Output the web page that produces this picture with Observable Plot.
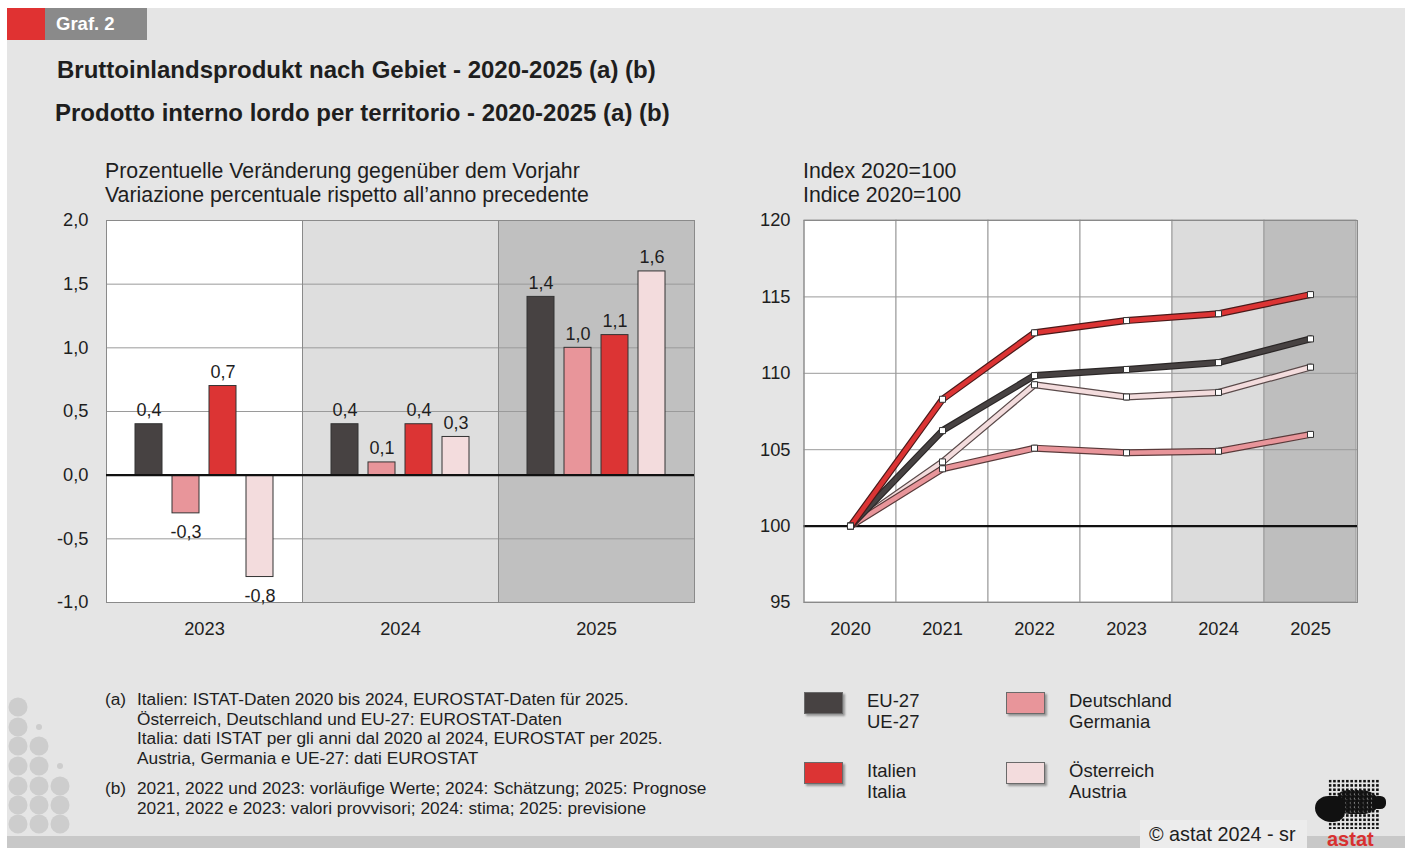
<!DOCTYPE html>
<html><head><meta charset="utf-8">
<script src="https://cdn.jsdelivr.net/npm/d3@7"></script>
<script src="https://cdn.jsdelivr.net/npm/@observablehq/plot@0.6"></script>
<style>
html,body{margin:0;padding:0;background:#fff;}
body{width:1408px;height:848px;position:relative;overflow:hidden;font-family:"Liberation Sans",Arial,Helvetica,sans-serif;color:#1e1e1e;}
#panel{position:absolute;left:7px;top:8px;width:1398px;height:840px;background:#e5e5e5;}
#bottomband{position:absolute;left:7px;top:836px;width:1398px;height:12px;background:#c8c8c8;}
.abs{position:absolute;white-space:nowrap;}
.sw{position:absolute;width:39px;height:22px;box-shadow:2px 2px 2px rgba(0,0,0,0.35);border:1px solid #6a6a6a;box-sizing:border-box;}
.leg{font-size:18.5px;line-height:21px;}
.fn{font-size:17.3px;line-height:19.5px;}
</style></head>
<body>
<div id="panel"></div>
<div id="bottomband"></div>
<div class="abs" style="left:7px;top:8px;width:38px;height:32px;background:#e03232;"></div>
<div class="abs" style="left:45px;top:8px;width:102px;height:32px;background:#8a8a8a;color:#fff;font-weight:bold;font-size:18.5px;line-height:32px;padding-left:11px;box-sizing:border-box;">Graf. 2</div>
<div class="abs" style="left:57px;top:57px;font-size:24px;font-weight:bold;line-height:26px;">Bruttoinlandsprodukt nach Gebiet - 2020-2025 (a) (b)</div>
<div class="abs" style="left:55px;top:100px;font-size:24px;font-weight:bold;line-height:26px;">Prodotto interno lordo per territorio - 2020-2025 (a) (b)</div>
<div class="abs" style="left:105px;top:159px;font-size:21.3px;line-height:24px;">Prozentuelle Veränderung gegenüber dem Vorjahr<br>Variazione percentuale rispetto all’anno precedente</div>
<div class="abs" style="left:803px;top:159px;font-size:21.3px;line-height:24px;">Index 2020=100<br>Indice 2020=100</div>
<div id="left" class="abs" style="left:0px;top:210px;"></div>
<div id="right" class="abs" style="left:720px;top:210px;"></div>

<svg class="abs" style="left:0;top:690px" width="80" height="146" id="deco"></svg>

<div class="abs fn" style="left:105px;top:690px;">(a)</div>
<div class="abs fn" style="left:137px;top:690px;">Italien: ISTAT-Daten 2020 bis 2024, EUROSTAT-Daten für 2025.<br>Österreich, Deutschland und EU-27: EUROSTAT-Daten<br>Italia: dati ISTAT per gli anni dal 2020 al 2024, EUROSTAT per 2025.<br>Austria, Germania e UE-27: dati EUROSTAT</div>
<div class="abs fn" style="left:105px;top:779px;">(b)</div>
<div class="abs fn" style="left:137px;top:779px;">2021, 2022 und 2023: vorläufige Werte; 2024: Schätzung; 2025: Prognose<br>2021, 2022 e 2023: valori provvisori; 2024: stima; 2025: previsione</div>

<div id="legend"></div>

<div class="abs" style="left:1140px;top:820px;width:167px;height:28px;background:#ececec;font-size:19.8px;line-height:28px;padding-left:9px;box-sizing:border-box;">© astat 2024 - sr</div>
<div class="abs" style="left:1328px;top:779px;width:52px;height:50px;background-image:radial-gradient(circle,#111 1.2px,transparent 1.5px);background-size:4.3px 4.3px;"></div>
<div class="abs" style="left:1315px;top:796px;width:30px;height:26px;background:#111;border-radius:45% 30% 40% 55%;"></div>
<div class="abs" style="left:1338px;top:790px;width:40px;height:24px;background-image:radial-gradient(circle,#111 1.9px,transparent 2.1px);background-size:4.3px 4.3px;border-radius:25% 45% 40% 30%;"></div>
<div class="abs" style="left:1372px;top:796px;width:14px;height:13px;background:#111;border-radius:40%;"></div>
<div class="abs" style="left:1327px;top:831px;font-size:20px;font-weight:bold;color:#d83030;line-height:17px;">astat</div>

<script>
// ---------- data ----------
const growthYears = ["2023", "2024", "2025"];
const seriesKeys = ["EU-27", "Deutschland", "Italien", "Österreich"];
const growthEU = [0.4, 0.4, 1.4];
const growthDE = [-0.3, 0.1, 1.0];
const growthIT = [0.7, 0.4, 1.1];
const growthAT = [-0.8, 0.3, 1.6];
const growthTicks = [-1, -0.5, 0, 0.5, 1, 1.5, 2];

const indexYears = ["2020", "2021", "2022", "2023", "2024", "2025"];
const indexEU = [100, 106.25, 109.85, 110.25, 110.7, 112.25];
const indexDE = [100, 103.75, 105.1, 104.8, 104.9, 106.0];
const indexIT = [100, 108.3, 112.65, 113.45, 113.9, 115.15];
const indexAT = [100, 104.2, 109.25, 108.45, 108.75, 110.4];
const indexTicks = [95, 100, 105, 110, 115, 120];

const legendDE = ["EU-27", "Deutschland", "Italien", "Österreich"];
const legendIT = ["UE-27", "Germania", "Italia", "Austria"];

// ---------- styles ----------
const fillColor = {"EU-27": "#474242", "Deutschland": "#e8959a", "Italien": "#dc3434", "Österreich": "#f3dcdd"};
const growthBand = {"2023": "#ffffff", "2024": "#dedede", "2025": "#c0c0c0"};
const indexBand = {"2020": "#ffffff", "2021": "#ffffff", "2022": "#ffffff", "2023": "#ffffff", "2024": "#dcdcdc", "2025": "#bebebe"};
const fmt = v => (v < 0 ? "-" : "") + Math.abs(v).toFixed(1).replace(".", ",");
const baseStyle = {fontFamily: "'Liberation Sans', Arial, sans-serif", fontSize: "18.3px", color: "#1e1e1e", background: "transparent", overflow: "visible"};

const growthValues = {"EU-27": growthEU, "Deutschland": growthDE, "Italien": growthIT, "Österreich": growthAT};
const growthRows = [];
growthYears.forEach((y, i) => seriesKeys.forEach(s => growthRows.push({year: y, series: s, value: growthValues[s][i]})));

const left = Plot.plot({
  width: 704, height: 432,
  marginLeft: 105, marginRight: 10, marginTop: 10, marginBottom: 40,
  style: baseStyle,
  fx: {domain: growthYears, padding: 0, label: null, tickSize: 0, tickPadding: 19, axis: "bottom"},
  x: {domain: seriesKeys, paddingInner: 0.27, paddingOuter: 0.78, axis: null},
  y: {domain: [-1, 2], ticks: growthTicks, tickFormat: fmt, tickSize: 0, tickPadding: 18, label: null},
  color: {type: "identity"},
  marks: [
    Plot.rect(growthYears, {fx: d => d, fill: d => growthBand[d]}),
    Plot.gridY(growthTicks, {stroke: "#9a9a9a", strokeOpacity: 1}),
    Plot.frame({stroke: "#8a8a8a"}),
    Plot.barY(growthRows, {fx: "year", x: "series", y: "value", fill: d => fillColor[d.series], stroke: "#333", strokeWidth: 1}),
    Plot.ruleY([0], {stroke: "#111", strokeWidth: 2.2}),
    Plot.text(growthRows.filter(d => d.value >= 0), {fx: "year", x: "series", y: "value", text: d => fmt(d.value), lineAnchor: "bottom", dy: -8, fontSize: 18, fill: "#1e1e1e"}),
    Plot.text(growthRows.filter(d => d.value < 0), {fx: "year", x: "series", y: "value", text: d => fmt(d.value), lineAnchor: "top", dy: 12, fontSize: 18, fill: "#1e1e1e"})
  ]
});
document.getElementById("left").appendChild(left);

const indexValues = {"EU-27": indexEU, "Deutschland": indexDE, "Italien": indexIT, "Österreich": indexAT};
const indexRows = [];
seriesKeys.forEach(s => indexYears.forEach((y, i) => indexRows.push({year: y, series: s, value: indexValues[s][i]})));
const drawOrder = ["Österreich", "Deutschland", "EU-27", "Italien"];
const outline = {"EU-27": "#2a2626", "Deutschland": "#5a3a3a", "Italien": "#4a1a1a", "Österreich": "#5a4a4a"};

const lineMarks = [];
drawOrder.forEach(s => {
  const rows = indexRows.filter(d => d.series === s);
  lineMarks.push(Plot.line(rows, {x: "year", y: "value", stroke: outline[s], strokeWidth: 7, strokeLinejoin: "miter"}));
  lineMarks.push(Plot.line(rows, {x: "year", y: "value", stroke: fillColor[s], strokeWidth: 4.6, strokeLinejoin: "miter"}));
});
drawOrder.forEach(s => {
  const rows = indexRows.filter(d => d.series === s);
  lineMarks.push(Plot.dot(rows, {x: "year", y: "value", symbol: "square", r: 3.4, fill: "#ffffff", stroke: "#333", strokeWidth: 1}));
});

const right = Plot.plot({
  width: 647, height: 432,
  marginLeft: 83.5, marginRight: 10, marginTop: 10, marginBottom: 40,
  style: baseStyle,
  x: {type: "band", domain: indexYears, padding: 0, tickSize: 0, tickPadding: 19, label: null},
  y: {domain: [95, 120], ticks: indexTicks, tickSize: 0, tickPadding: 13.5, label: null},
  color: {type: "identity"},
  marks: [
    Plot.cell(indexYears, {x: d => d, fill: d => indexBand[d], stroke: "#9a9a9a", inset: 0}),
    Plot.gridY(indexTicks, {stroke: "#9a9a9a", strokeOpacity: 1}),
    Plot.ruleY([100], {stroke: "#111", strokeWidth: 2.2}),
    Plot.frame({stroke: "#8a8a8a"}),
    ...lineMarks
  ]
});
document.getElementById("right").appendChild(right);

// legend
const legendPos = [[804, 692], [1006, 692], [804, 762], [1006, 762]];
const legendEl = document.getElementById("legend");
legendDE.forEach((name, i) => {
  const [lx, ly] = legendPos[i];
  const sw = document.createElement("div");
  sw.className = "sw";
  sw.style.left = lx + "px"; sw.style.top = ly + "px";
  sw.style.background = fillColor[seriesKeys[i]];
  legendEl.appendChild(sw);
  const t = document.createElement("div");
  t.className = "abs leg";
  t.style.left = (lx + 63) + "px"; t.style.top = (ly - 2) + "px";
  t.innerHTML = name + "<br>" + legendIT[i];
  legendEl.appendChild(t);
});

// decorative dots
const deco = d3.select("#deco");
const decoCols = [18, 39, 60];
const decoRows = [17, 37, 56, 76, 96, 115, 134];
const decoPattern = [[2,0,0],[2,1,0],[2,2,0],[2,2,1],[2,2,2],[2,2,2],[2,2,2]];
decoPattern.forEach((row, r) => row.forEach((v, c) => {
  if (v) deco.append("circle").attr("cx", decoCols[c]).attr("cy", decoRows[r]).attr("r", v === 2 ? 9.5 : 3).attr("fill", "#cdcdcd");
}));
</script>
</body></html>
